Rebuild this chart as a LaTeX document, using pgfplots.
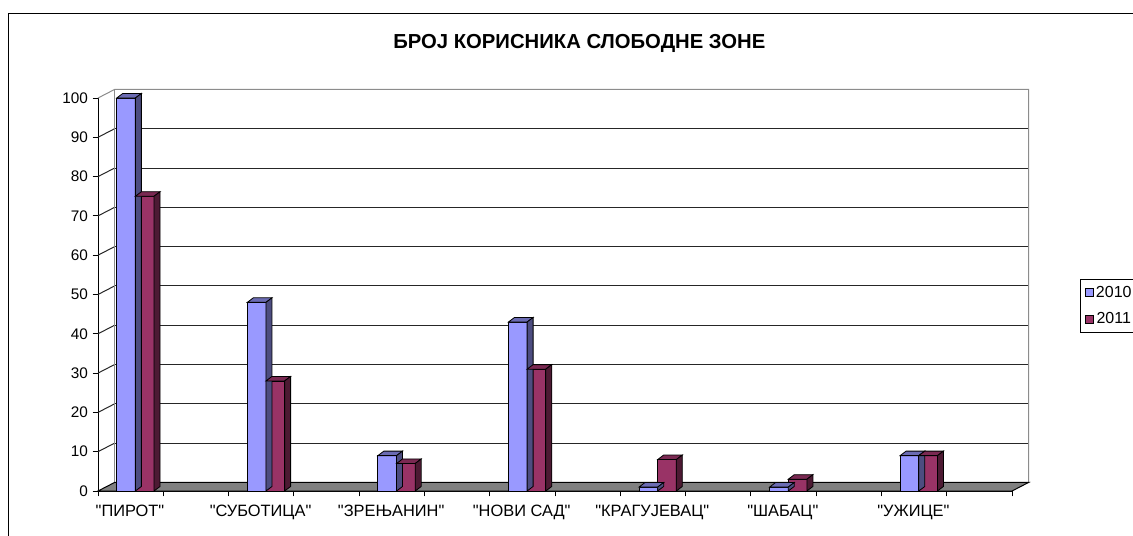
\documentclass[border=0pt]{standalone}
\usepackage{pgfplots}
\pgfplotsset{compat=1.18}
\usepackage{pgfplotstable}
\usepackage{fontspec}
\setmainfont{Liberation Sans}[Ligatures=TeXOff]
\definecolor{fA}{HTML}{9999FF}
\definecolor{sA}{HTML}{4D4D80}
\definecolor{tA}{HTML}{6B6BB3}
\definecolor{fB}{HTML}{993366}
\definecolor{sB}{HTML}{4D1A33}
\definecolor{tB}{HTML}{7A2952}
\definecolor{floorc}{HTML}{808080}
\definecolor{wallc}{HTML}{8C8C8C}

\pgfplotstableread{
x v
0 100
1 48
2 9
3 43
4 1
5 1
6 9
}\tabA
\pgfplotstableread{
x v
0 75
1 28
2 7
3 31
4 8
5 3
6 9
}\tabB

% 3D top and side faces of a bar, drawn at the bar top
\newcommand\cubepath[4]{%
  \pgfmathsetmacro\hh{\val*2.9475}%
  \pgfpathmoveto{\pgfpoint{#1}{0pt}}%
  \pgfpathlineto{\pgfpoint{#2}{0pt}}%
  \pgfpathlineto{\pgfpoint{#2+4.5pt}{3.4pt}}%
  \pgfpathlineto{\pgfpoint{#1+4.5pt}{3.4pt}}%
  \pgfpathclose
  \pgfsetfillcolor{#3}\pgfusepath{fill,stroke}%
  \pgfpathmoveto{\pgfpoint{#2}{0pt}}%
  \pgfpathlineto{\pgfpoint{#2+4.5pt}{3.4pt}}%
  \pgfpathlineto{\pgfpoint{#2+4.5pt}{3.4pt-\hh pt}}%
  \pgfpathlineto{\pgfpoint{#2}{-\hh pt}}%
  \pgfpathclose
  \pgfsetfillcolor{#4}\pgfusepath{fill,stroke}%
}
\pgfdeclareplotmark{cubeA}{\cubepath{-9.95pt}{4.05pt}{tA}{sA}}
\pgfdeclareplotmark{cubeB}{\cubepath{4.05pt}{18.05pt}{tB}{sB}}

\begin{document}
\begin{tikzpicture}
\draw[line width=0.75pt] (6pt,-9.75pt) rectangle (900pt,-450pt);
\node[font=\fontsize{15.2}{18}\selectfont\bfseries, anchor=base] at (434.5pt,-36.2pt) {БРОЈ КОРИСНИКА СЛОБОДНЕ ЗОНЕ};
\begin{axis}[
  at={(73.5pt,-368.25pt)}, anchor=south west,
  scale only axis, width=685.5pt, height=294.75pt,
  xmin=-0.245, xmax=6.755, ymin=0, ymax=100,
  clip=false,
  axis lines*=left,
  axis line style={black, line width=0.75pt},
  tick align=outside,
  major tick length=4pt,
  tick style={black, line width=0.75pt},
  ytick={0,10,...,100},
  xtick={-0.245,0.255,0.755,1.255,1.755,2.255,2.755,3.255,3.755,4.255,4.755,5.255,5.755,6.255,6.755},
  xticklabels={},
  extra x ticks={0,1,2,3,4,5,6},
  extra x tick labels={"ПИРОТ","СУБОТИЦА","ЗРЕЊАНИН","НОВИ САД","КРАГУЈЕВАЦ","ШАБАЦ","УЖИЦЕ"},
  extra x tick style={major tick length=0pt, tick label style={yshift=-7pt, font=\fontsize{12.3}{14}\selectfont}},
  tick label style={font=\fontsize{11.5}{13}\selectfont},
  /pgf/number format/assume math mode=true,
  legend style={at={(1.0744,0.5394)}, anchor=north west, draw=black, line width=0.75pt,
    font=\fontsize{12}{14}\selectfont, inner xsep=3pt, inner ysep=3pt, row sep=6pt,
    nodes={inner sep=2pt}},
]
% back wall grid lines
\pgfplotsinvokeforeach{10,20,30,40,50,60,70,80,90}{
  \draw[black!85, line width=0.75pt] ([shift={(12.4pt,6.4pt)}]axis cs:-0.245,#1) -- ([shift={(12.4pt,6.4pt)}]axis cs:6.755,#1);
  \draw[black!85, line width=0.75pt] (axis cs:-0.245,#1) -- ([shift={(12.4pt,6.4pt)}]axis cs:-0.245,#1);
}
% wall borders
\draw[wallc, line width=0.75pt] (axis cs:-0.245,100) -- ([shift={(12.4pt,6.4pt)}]axis cs:-0.245,100)
   -- ([shift={(12.4pt,6.4pt)}]axis cs:6.755,100) -- ([shift={(12.4pt,6.4pt)}]axis cs:6.755,0);
\draw[wallc, line width=0.75pt] ([shift={(12.4pt,6.4pt)}]axis cs:-0.245,0) -- ([shift={(12.4pt,6.4pt)}]axis cs:-0.245,100);
% floor
\filldraw[fill=floorc, draw=black, line width=0.75pt] (axis cs:-0.245,0) -- (axis cs:6.755,0)
   -- ([shift={(12.4pt,6.4pt)}]axis cs:6.755,0) -- ([shift={(12.4pt,6.4pt)}]axis cs:-0.245,0) -- cycle;

\addplot[ybar, bar width=14pt, bar shift=-2.95pt, fill=fA, draw=black, line width=0.6pt,
  legend image code/.code={\draw[fill=fA, draw=black, line width=0.6pt] (0pt,-3pt) rectangle (6pt,3pt);}]
  table[x=x, y=v]{\tabA};
\addlegendentry{2010}
\addplot[only marks, mark=cubeA, mark options={draw=black, line width=0.6pt},
  visualization depends on={\thisrow{v} \as \val}, forget plot]
  table[x=x, y=v]{\tabA};
\addplot[ybar, bar width=14pt, bar shift=11.05pt, fill=fB, draw=black, line width=0.6pt,
  legend image code/.code={\draw[fill=fB, draw=black, line width=0.6pt] (0pt,-3pt) rectangle (6pt,3pt);}]
  table[x=x, y=v]{\tabB};
\addlegendentry{2011}
\addplot[only marks, mark=cubeB, mark options={draw=black, line width=0.6pt},
  visualization depends on={\thisrow{v} \as \val}, forget plot]
  table[x=x, y=v]{\tabB};
\end{axis}
\pgfresetboundingbox
\useasboundingbox (0,0) rectangle (849.75pt,-402pt);
\end{tikzpicture}
\end{document}
